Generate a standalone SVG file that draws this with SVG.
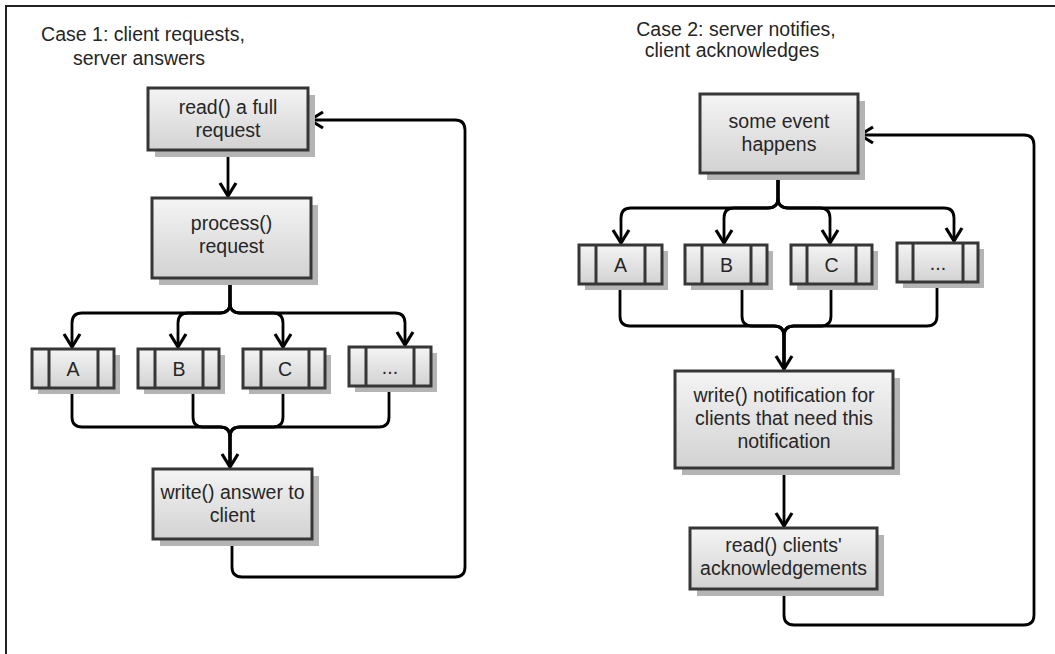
<svg xmlns="http://www.w3.org/2000/svg" width="1055" height="654" viewBox="0 0 1055 654">
<style>
.box{fill:url(#g);stroke:#363636;stroke-width:3}
.sh{fill:#b4b4b4}
.band{stroke:#363636;stroke-width:3;fill:none}
.t{font-family:"Liberation Sans",Arial,sans-serif;font-size:19.5px;fill:#262626;text-anchor:middle}
.e{fill:none;stroke:#000;stroke-width:2.8;stroke-linejoin:round}
.a{marker-end:url(#arr)}
</style>
<defs>
<linearGradient id="g" x1="0" y1="0" x2="0" y2="1">
<stop offset="0" stop-color="#f4f4f4"/>
<stop offset="1" stop-color="#d2d2d2"/>
</linearGradient>
<marker id="arr" markerUnits="userSpaceOnUse" viewBox="-16 -11 19 22" markerWidth="19" markerHeight="22" refX="0" refY="0" orient="auto" overflow="visible">
<path d="M-13,-8 L0,0 L-13,8" fill="none" stroke="#000" stroke-width="3.2" stroke-linejoin="miter" stroke-miterlimit="10"/>
</marker>
</defs>
<rect width="1055" height="654" fill="#fff"/>
<path d="M6,654 V6 H1055" fill="none" stroke="#222" stroke-width="2"/>

<g id="title1">
<text class="t" x="143" y="41">Case 1: client requests,</text>
<text class="t" x="139" y="65">server answers</text>
</g>
<g id="title2">
<text class="t" x="736" y="36">Case 2: server notifies,</text>
<text class="t" x="732" y="57">client acknowledges</text>
</g>

<g id="connectors">
<path class="e a" d="M228,150 V196"/>
<path class="e a" d="M230,278 V303 Q230,313 220,313 H82 Q72,313 72,323 V347"/>
<path class="e a" d="M230,278 V303 Q230,313 220,313 H188 Q178,313 178,323 V347"/>
<path class="e a" d="M230,278 V303 Q230,313 240,313 H273 Q283,313 283,323 V347"/>
<path class="e a" d="M230,278 V303 Q230,313 240,313 H395 Q405,313 405,323 V345"/>
<path class="e" d="M72,388 V417 Q72,427 82,427 H220 Q230,427 230,437 V467"/>
<path class="e" d="M193,388 V417 Q193,427 203,427 H220 Q230,427 230,437 V467"/>
<path class="e" d="M283,388 V417 Q283,427 273,427 H240 Q230,427 230,437 V467"/>
<path class="e a" d="M389,386 V417 Q389,427 379,427 H240 Q230,427 230,437 V467"/>
<path class="e a" d="M232,539 V567 Q232,577 242,577 H455 Q465,577 465,567 V130 Q465,120 455,120 H310"/>

<path class="e a" d="M778,173 V198 Q778,208 768,208 H631 Q621,208 621,218 V243"/>
<path class="e a" d="M778,173 V198 Q778,208 768,208 H734 Q724,208 724,218 V243"/>
<path class="e a" d="M778,173 V198 Q778,208 788,208 H820 Q830,208 830,218 V243"/>
<path class="e a" d="M778,173 V198 Q778,208 788,208 H944 Q954,208 954,218 V241"/>
<path class="e" d="M620,284 V316 Q620,326 630,326 H774 Q784,326 784,336 V369"/>
<path class="e" d="M742,284 V316 Q742,326 752,326 H774 Q784,326 784,336 V369"/>
<path class="e" d="M831,284 V316 Q831,326 821,326 H794 Q784,326 784,336 V369"/>
<path class="e a" d="M937,282 V316 Q937,326 927,326 H794 Q784,326 784,336 V369"/>
<path class="e a" d="M784,468 V526"/>
<path class="e a" d="M784,589 V615 Q784,625 794,625 H1024 Q1034,625 1034,615 V145 Q1034,135 1024,135 H860"/>
</g>

<g id="read1">
<rect class="sh" x="155" y="95" width="160" height="62"/>
<rect class="box" x="148" y="88" width="160" height="62"/>
<text class="t" x="228" y="114">read() a full</text>
<text class="t" x="228" y="137">request</text>
</g>
<g id="process1">
<rect class="sh" x="159" y="205" width="159" height="80"/>
<rect class="box" x="152" y="198" width="159" height="80"/>
<text class="t" x="231.5" y="230">process()</text>
<text class="t" x="231.5" y="253">request</text>
</g>
<g id="A1">
<rect class="sh" x="38" y="355" width="82" height="39"/>
<rect class="box" x="32" y="349" width="82" height="39"/>
<path class="band" d="M49,349 V388 M98,349 V388"/>
<text class="t" x="73" y="375.5">A</text>
</g>
<g id="B1">
<rect class="sh" x="144" y="355" width="81" height="39"/>
<rect class="box" x="138" y="349" width="81" height="39"/>
<path class="band" d="M155,349 V388 M203,349 V388"/>
<text class="t" x="179" y="375.5">B</text>
</g>
<g id="C1">
<rect class="sh" x="249" y="355" width="82" height="39"/>
<rect class="box" x="243" y="349" width="82" height="39"/>
<path class="band" d="M261,349 V388 M309,349 V388"/>
<text class="t" x="285" y="375.5">C</text>
</g>
<g id="D1">
<rect class="sh" x="355" y="353" width="82" height="39"/>
<rect class="box" x="349" y="347" width="82" height="39"/>
<path class="band" d="M366,347 V386 M414,347 V386"/>
<text class="t" x="390" y="373.5">...</text>
</g>
<g id="write1">
<rect class="sh" x="160" y="476" width="159" height="70"/>
<rect class="box" x="153" y="469" width="159" height="70"/>
<text class="t" x="232.5" y="499">write() answer to</text>
<text class="t" x="232.5" y="522">client</text>
</g>

<g id="event2">
<rect class="sh" x="707" y="101" width="158" height="79"/>
<rect class="box" x="700" y="94" width="158" height="79"/>
<text class="t" x="779" y="128">some event</text>
<text class="t" x="779" y="151">happens</text>
</g>
<g id="A2">
<rect class="sh" x="585" y="251" width="83" height="39"/>
<rect class="box" x="579" y="245" width="83" height="39"/>
<path class="band" d="M596,245 V284 M645,245 V284"/>
<text class="t" x="620.5" y="271.5">A</text>
</g>
<g id="B2">
<rect class="sh" x="691" y="251" width="82" height="39"/>
<rect class="box" x="685" y="245" width="82" height="39"/>
<path class="band" d="M702,245 V284 M751,245 V284"/>
<text class="t" x="726.5" y="271.5">B</text>
</g>
<g id="C2">
<rect class="sh" x="797" y="251" width="81" height="39"/>
<rect class="box" x="791" y="245" width="81" height="39"/>
<path class="band" d="M807,245 V284 M856,245 V284"/>
<text class="t" x="831.5" y="271.5">C</text>
</g>
<g id="D2">
<rect class="sh" x="903" y="249" width="81" height="39"/>
<rect class="box" x="897" y="243" width="81" height="39"/>
<path class="band" d="M913,243 V282 M963,243 V282"/>
<text class="t" x="938" y="269.5">...</text>
</g>
<g id="notify2">
<rect class="sh" x="682" y="378" width="218" height="97"/>
<rect class="box" x="675" y="371" width="218" height="97"/>
<text class="t" x="784" y="402">write() notification for</text>
<text class="t" x="784" y="425">clients that need this</text>
<text class="t" x="784" y="448">notification</text>
</g>
<g id="ack2">
<rect class="sh" x="697" y="535" width="187" height="61"/>
<rect class="box" x="690" y="528" width="187" height="61"/>
<text class="t" x="783.5" y="552">read() clients'</text>
<text class="t" x="783.5" y="575">acknowledgements</text>
</g>
</svg>
